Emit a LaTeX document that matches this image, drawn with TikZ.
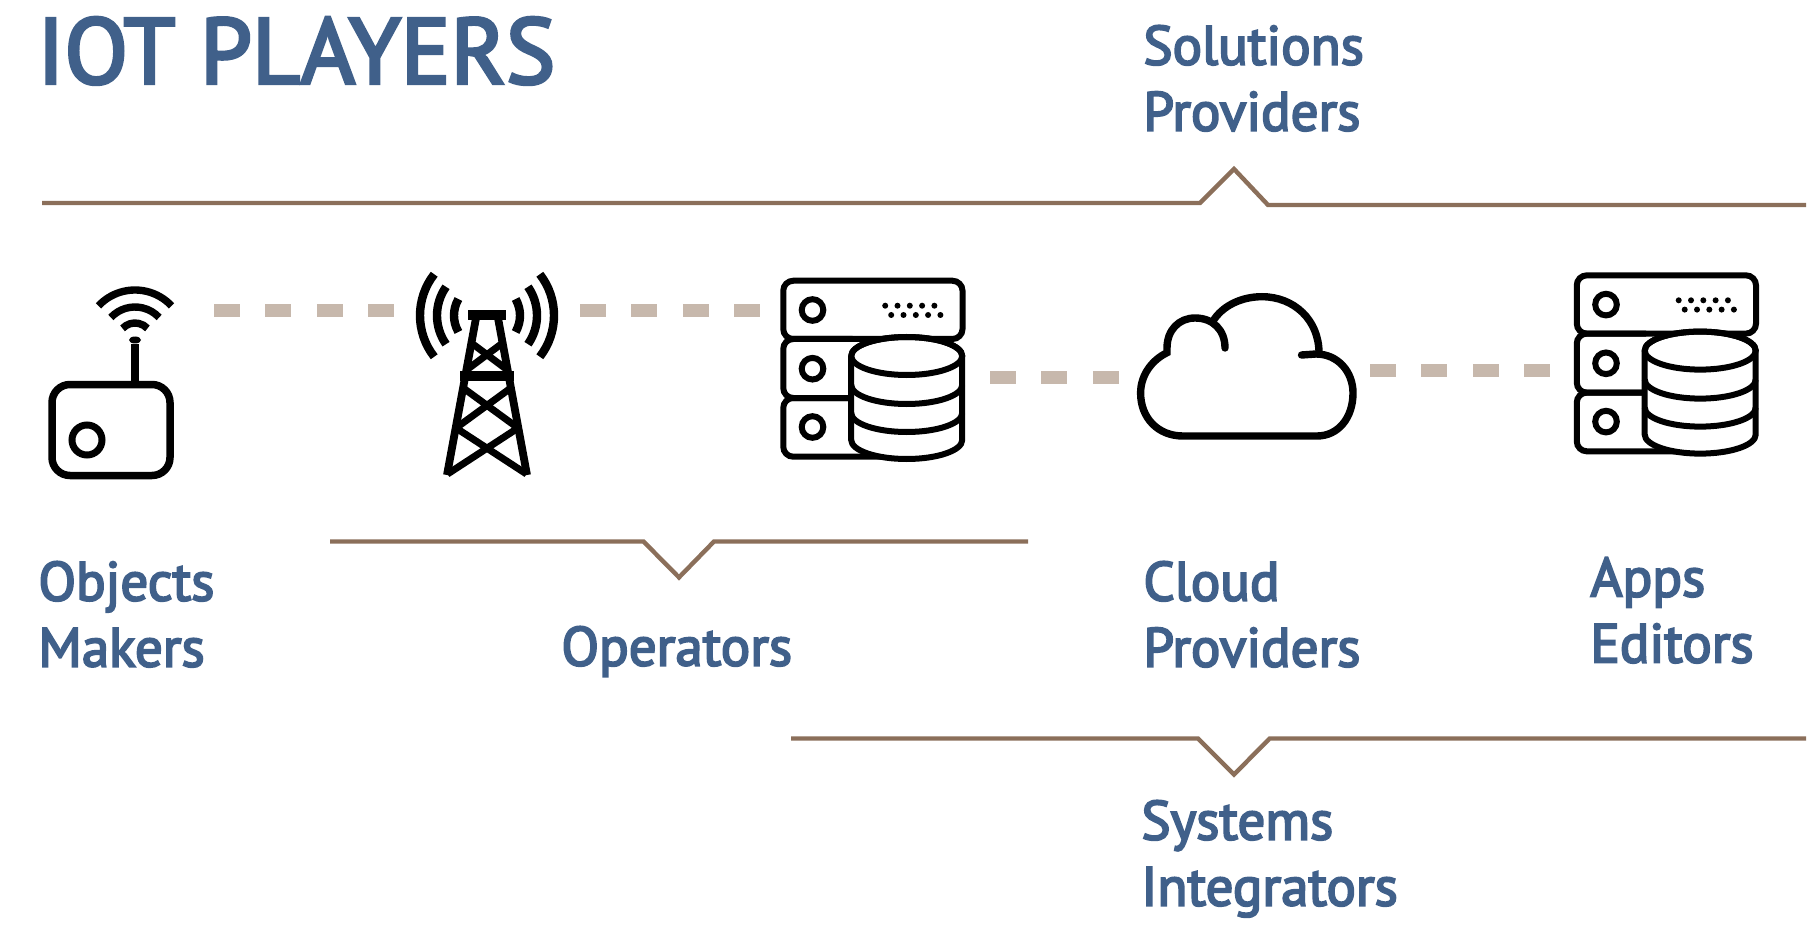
\documentclass[tikz,border=0pt]{standalone}
\usepackage{fontspec}
\setmainfont{PT Sans}
\newfontfamily\playerfont{PT Sans}[FakeBold=3.5]
\usetikzlibrary{positioning}
\definecolor{cText}{RGB}{64,96,138}
\definecolor{cRule}{RGB}{139,111,90}
\definecolor{cLink}{RGB}{199,184,172}
\newcommand{\serverIcon}[1]{%
  \begin{scope}[shift={(#1)},line width=3pt]
    \draw[rounded corners=5pt] (2.75,2.75) rectangle (182,61);
    \draw[rounded corners=5pt] (72,61)--(2.75,61)--(2.75,120)--(72,120);
    \draw[rounded corners=5pt] (72,120)--(2.75,120)--(2.75,178.7)--(105,178.7);
    \foreach \cy in {32,90.7,149} \draw (32,\cy) circle[radius=10.8];
    \foreach \dx in {0,1,2,3,4} {
      \fill (104.7+12.3*\dx,27.7) circle[radius=3];
      \fill (110.7+12.3*\dx,37) circle[radius=3];
    }
    \draw[fill=white] (70.7,78)--(70.7,162) arc[start angle=180,end angle=0,x radius=55.5,y radius=19]
      --(181.7,78) arc[start angle=0,end angle=-180,x radius=55.5,y radius=19];
    \draw (126.2,78) ellipse[x radius=55.5,y radius=19];
    \draw (70.7,107) arc[start angle=180,end angle=0,x radius=55.5,y radius=19];
    \draw (70.7,135) arc[start angle=180,end angle=0,x radius=55.5,y radius=19];
  \end{scope}}
\begin{document}
\begin{tikzpicture}[x=0.5pt,y=-0.5pt,
   icon/.style={inner sep=0pt,outer sep=0pt,minimum height=20pt},
   link/.style={cLink,line width=6.5pt,dash pattern=on 13pt off 12.7pt},
   rule/.style={cRule,line width=2.2pt},
   lbl/.style={cText,font=\playerfont\fontsize{27.5}{33}\selectfont,align=left,anchor=north west,inner sep=0pt}]
  \useasboundingbox (0,0) rectangle (1818,930);
  \node[cText,font=\playerfont\fontsize{46.5}{50}\selectfont,anchor=base west,inner sep=0pt] (title) at (37,83.5) {IOT PLAYERS};

  % invisible frames carry the links
  \node[icon,minimum width=79pt] (router) at (135,310.5) {};
  \node[icon,minimum width=93pt,right=90pt of router] (tower) {};
  \node[icon,minimum width=115pt,right=90pt of tower] (srvA) {};
  \node[icon,minimum width=125.5pt,right=64.5pt of srvA,yshift=-33.5pt] (cloud) {};
  \node[icon,minimum width=115pt,right=90pt of cloud,yshift=3.5pt] (srvB) {};
  \draw[link] (router.east)--(tower.west);
  \draw[link] (tower.east)--(srvA.west);
  \draw[link] (srvA.east |- cloud.west)--(cloud.west);
  \draw[link] (cloud.east |- srvB.west)--(srvB.west);

  % rules
  \draw[rule] (42,203)--(1200,203)--(1234,169)--(1268,205)--(1806,205);
  \draw[rule] (330,541.5)--(643.5,541.5)--(679,577.4)--(714,541.5)--(1028,541.5);
  \draw[rule] (791,738.5)--(1198,738.5)--(1234,774.5)--(1269.6,738.5)--(1806,738.5);

  % router
  \draw[line width=3.75pt,rounded corners=9pt] (52,384.5) rectangle (170,475.5);
  \draw[line width=3.5pt] (87,440) circle[radius=15];
  \draw[line width=3.9pt] (135,384)--(135,344);
  \fill (135,340) ellipse[x radius=6,y radius=3.5];
  \foreach \rr in {50,33,17}
    \draw[line width=3.7pt] (135,340) ++(-137:\rr) arc[start angle=-137,end angle=-43,radius=\rr];

  % tower
  \begin{scope}[line width=3.9pt]
    \draw (476,318)--(447,475);
    \draw (498,318)--(527,475);
    \draw[line width=4.7pt] (468,315)--(506,315);
    \draw[line width=4.7pt] (460,376)--(513.6,376);
    \draw[line width=3.5pt] (471.4,343)--(507.5,370);
    \draw[line width=3.5pt] (502.6,343)--(466.5,370);
    \draw[line width=3.5pt] (463.2,388)--(518,428);
    \draw[line width=3.5pt] (510.8,388)--(456,428);
    \draw[line width=3.5pt] (456,428)--(526.5,474);
    \draw[line width=3.5pt] (518,428)--(447.5,474);
    \foreach \rr/\aa in {67/38,50/35,33/30} {
      \draw[line width=4.2pt] (487,315.5) ++(180-\aa:\rr) arc[start angle=180-\aa,end angle=180+\aa,radius=\rr];
      \draw[line width=4.2pt] (487,315.5) ++(-\aa:\rr) arc[start angle=-\aa,end angle=\aa,radius=\rr];
    }
  \end{scope}

  \serverIcon{780.5,278}
  \serverIcon{1574,272.6}

  % cloud
  \begin{scope}[line width=3.7pt,line cap=round]
    \draw (1225,348) .. controls (1225,330) and (1213,318) .. (1195,318)
      .. controls (1179,318) and (1167,330) .. (1167,348) -- (1167,352.7)
      .. controls (1152,360) and (1140.6,375) .. (1140.6,393)
      .. controls (1140.6,418) and (1158,436) .. (1183,436) -- (1317,436)
      .. controls (1338,436) and (1353,418) .. (1353,393)
      .. controls (1353,372) and (1338,354) .. (1316,354) -- (1301.5,355);
    \draw (1212.6,321.7) .. controls (1222,306) and (1241,296.7) .. (1262,296.7)
      .. controls (1294,296.7) and (1319,320) .. (1319,353);
  \end{scope}

  \node[lbl] (solutions) at (1143,25) {Solutions\\Providers};
  \node[lbl] (makers) at (38,561) {Objects\\Makers};
  \node[lbl] (operators) at (561,626) {Operators};
  \node[lbl] (providers) at (1143,561) {Cloud\\Providers};
  \node[lbl] (editors) at (1590,557) {Apps\\Editors};
  \node[lbl] (integrators) at (1141,800) {Systems\\Integrators};
\end{tikzpicture}
\end{document}
